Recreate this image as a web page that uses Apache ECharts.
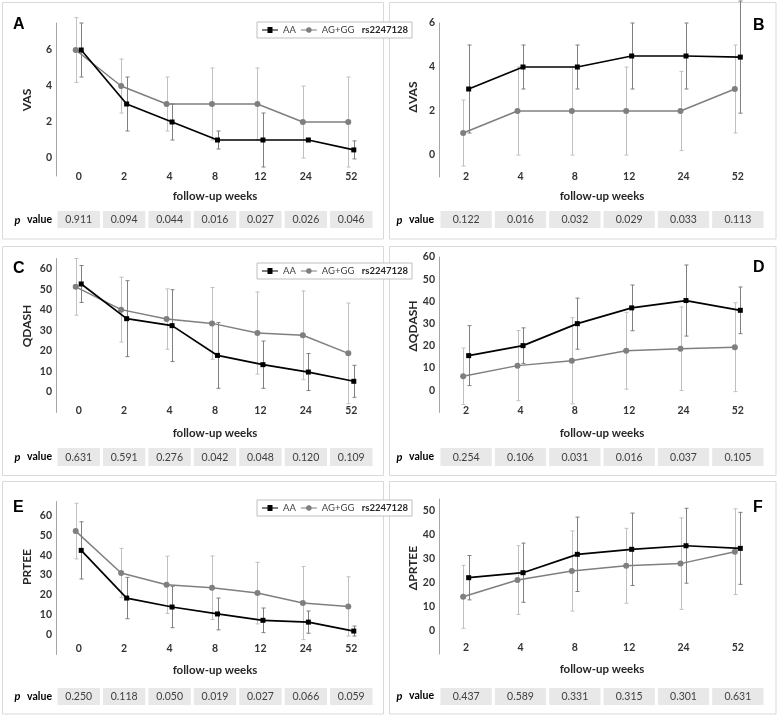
<!DOCTYPE html>
<html><head><meta charset="utf-8">
<script src="https://cdn.jsdelivr.net/npm/echarts@6/dist/echarts.min.js"></script>
<style>html,body{margin:0;padding:0;background:#fff}#c{width:778px;height:716px}</style>
</head><body><div id="c"></div>
<script>
// ---- categories ----
const weeksFull = ['0', '2', '4', '8', '12', '24', '52'];
const weeksDelta = ['2', '4', '8', '12', '24', '52'];

// ---- A: VAS ----
const vasAAmean = [6, 3, 2, 1, 1, 1, 0.45];
const vasAAsd   = [1.5, 1.5, 1, 0.5, 1.5, 0, 0.5];
const vasAGmean = [6, 4, 3, 3, 3, 2, 2];
const vasAGsd   = [1.8, 1.5, 1.5, 2, 2, 2, 2.5];
const pA = [0.911, 0.094, 0.044, 0.016, 0.027, 0.026, 0.046];

// ---- B: delta VAS ----
const dvasAAmean = [3, 4, 4, 4.5, 4.5, 4.45];
const dvasAAsd   = [2, 1, 1, 1.5, 1.5, 2.55];
const dvasAGmean = [1, 2, 2, 2, 2, 3];
const dvasAGsd   = [1.5, 2, 2, 2, 1.8, 2];
const pB = [0.122, 0.016, 0.032, 0.029, 0.033, 0.113];

// ---- C: QDASH ----
const qdAAmean = [52.6, 35.7, 32.3, 17.8, 13.3, 9.7, 5.2];
const qdAAsd   = [9, 18.5, 17.5, 16, 11.5, 9, 7.8];
const qdAGmean = [51.2, 40.1, 35.5, 33.4, 28.7, 27.6, 18.8];
const qdAGsd   = [13.8, 15.8, 14.7, 17.5, 20, 21.6, 24.5];
const pC = [0.631, 0.591, 0.276, 0.042, 0.048, 0.120, 0.109];

// ---- D: delta QDASH ----
const dqdAAmean = [15.6, 20.1, 30, 37.1, 40.4, 36];
const dqdAAsd   = [13.5, 8, 11.5, 10.3, 16, 10.5];
const dqdAGmean = [6.3, 11.1, 13.3, 17.8, 18.7, 19.4];
const dqdAGsd   = [12.7, 15.8, 19.4, 17.3, 18.8, 20];
const pD = [0.254, 0.106, 0.031, 0.016, 0.037, 0.105];

// ---- E: PRTEE ----
const prAAmean = [42.4, 18.4, 13.9, 10.4, 7.2, 6.3, 1.8];
const prAAsd   = [14.4, 10.4, 10.4, 8, 6.2, 5.6, 2.5];
const prAGmean = [52.1, 31, 25.1, 23.6, 20.9, 15.9, 14.2];
const prAGsd   = [14, 12.4, 14.4, 16, 15.5, 18.4, 14.9];
const pE = [0.250, 0.118, 0.050, 0.019, 0.027, 0.066, 0.059];

// ---- F: delta PRTEE ----
const dprAAmean = [22, 24.1, 31.8, 33.9, 35.4, 34.3];
const dprAAsd   = [9.3, 12.4, 15.6, 15.2, 15.7, 15.1];
const dprAGmean = [14, 21, 24.8, 27, 27.9, 32.9];
const dprAGsd   = [13.2, 14.4, 16.8, 15.7, 19.2, 18];
const pF = [0.437, 0.589, 0.331, 0.315, 0.301, 0.631];

const seriesNames = ['AA', 'AG+GG'];
const snpName = 'rs2247128';
const xTitle = 'follow-up weeks';

// ---- layout / styles ----
const FONT = 'Lato, "Open Sans", sans-serif';
const COL_AA = '#000000', COL_AG = '#7f7f7f', ERR_AA = '#7f7f7f', ERR_AG = '#c0c0c0';
const DX_AA = 2.5, DX_AG = -3;

const panels = [
  {id:'A', yName:'VAS', cats:weeksFull, aaM:vasAAmean, aaS:vasAAsd, agM:vasAGmean, agS:vasAGsd, p:pA,
   box:[2.5,2.5,381,236.5], grid:[56,23,318,153], y:[-1,7.5,1,2], lm:0.7, ng:20.7, prow:[211,17],
   letter:[13,25], yt:[26.7,100], plab:[52,220]},
  {id:'B', yName:'\u0394VAS', cats:weeksDelta, aaM:dvasAAmean, aaS:dvasAAsd, agM:dvasAGmean, agS:dvasAGsd, p:pB,
   box:[389.5,2.5,386.5,236.5], grid:[439,23,326,154], y:[-1,6,1,2], lm:-0.3, ng:19.7, prow:[211,17],
   letter:[753,26], yt:[413,97], plab:[434,220]},
  {id:'C', yName:'QDASH', cats:weeksFull, aaM:qdAAmean, aaS:qdAAsd, agM:qdAGmean, agS:qdAGsd, p:pC,
   box:[2.5,246.5,381,229], grid:[56,258.5,318,154], y:[-10,65,5,10], lm:-1.8, ng:20.5, prow:[448,18],
   letter:[13,268.5], yt:[26.7,326], plab:[52,457]},
  {id:'D', yName:'\u0394QDASH', cats:weeksDelta, aaM:dqdAAmean, aaS:dqdAAsd, agM:dqdAGmean, agS:dqdAGsd, p:pD,
   box:[389.5,246.5,386.5,229], grid:[439,257,326,155.5], y:[-10,60,10,10], lm:-1.8, ng:20.5, prow:[448,18],
   letter:[753,268], yt:[413,326], plab:[434,457]},
  {id:'E', yName:'PRTEE', cats:weeksFull, aaM:prAAmean, aaS:prAAsd, agM:prAGmean, agS:prAGsd, p:pE,
   box:[2.5,481.5,381,232.5], grid:[56,501.5,318,153], y:[-10,67,10,10], lm:-6.2, ng:15.5, prow:[688,17],
   letter:[13,508], yt:[26.7,567], plab:[52,696.5]},
  {id:'F', yName:'\u0394PRTEE', cats:weeksDelta, aaM:dprAAmean, aaS:dprAAsd, agM:dprAGmean, agS:dprAGsd, p:pF,
   box:[389.5,481.5,386.5,232.5], grid:[439,499,326,155], y:[-10,55,5,10], lm:-6.3, ng:15, prow:[688,17],
   letter:[753,508], yt:[413,568], plab:[434,696]}
];
const legendTops = [22, 263, 500];

function errRender(dx, color) {
  return function (params, api) {
    const i = api.value(0), m = api.value(1), s = api.value(2);
    if (!s) return null;
    const t = api.coord([i, m + s]), b = api.coord([i, m - s]);
    const x = Math.round(t[0] + dx) + 0.5;
    const st = {stroke: color, lineWidth: 1};
    return {type: 'group', children: [
      {type: 'line', shape: {x1: x, y1: t[1], x2: x, y2: b[1]}, style: st},
      {type: 'line', shape: {x1: x - 2, y1: t[1], x2: x + 2, y2: t[1]}, style: st},
      {type: 'line', shape: {x1: x - 2, y1: b[1], x2: x + 2, y2: b[1]}, style: st}
    ]};
  };
}
function lineRender(dx, color, means, shape) {
  return function (params, api) {
    const i = api.value(0), m = api.value(1);
    const p = api.coord([i, m]);
    const x = p[0] + dx, y = p[1];
    const ch = [];
    if (i > 0) {
      const q = api.coord([i - 1, means[i - 1]]);
      ch.push({type: 'line', z2: 1, shape: {x1: q[0] + dx, y1: q[1], x2: x, y2: y},
        style: {stroke: color, lineWidth: shape === 'square' ? 1.7 : 1.5}});
    }
    if (shape === 'square') ch.push({type: 'rect', z2: 5, shape: {x: x - 2.5, y: y - 2.5, width: 5, height: 5}, style: {fill: color}});
    else ch.push({type: 'circle', z2: 5, shape: {cx: x, cy: y, r: 3}, style: {fill: color}});
    return {type: 'group', children: ch};
  };
}
function pRender(params, api) {
  const i = api.value(0);
  const c = api.coord([i, 0.5]);
  const sz = api.size([1, 1]);
  const w = sz[0] - 3, h = sz[1];
  return {type: 'group', children: [
    {type: 'rect', shape: {x: c[0] - w / 2, y: c[1] - h / 2, width: w, height: h}, style: {fill: '#e8e8e8'}},
    {type: 'text', x: c[0], y: c[1] + 0.5, style: {text: api.value(1).toFixed(3), fill: '#404040',
      fontSize: 10.5, fontFamily: FONT, align: 'center', verticalAlign: 'middle'}}
  ]};
}

const grid = [], xAxis = [], yAxis = [], series = [], graphic = [];
const labelStyle = {fontFamily: FONT, fontWeight: 'bold', fontSize: 10.5, color: '#333'};

panels.forEach((P, g) => {
  const b = P.box;
  graphic.push({type: 'rect', z: -10, shape: {x: b[0], y: b[1], width: b[2], height: b[3]},
    style: {fill: '#fff', stroke: '#d9d9d9', lineWidth: 1}});
  graphic.push({type: 'text', x: P.letter[0], y: P.letter[1], style: {text: P.id, fill: '#000',
    fontSize: 16, fontWeight: 'bold', fontFamily: '"Liberation Sans", Arial, sans-serif', verticalAlign: 'middle'}});
  graphic.push({type: 'text', x: P.yt[0], y: P.yt[1], rotation: Math.PI / 2, style: {text: P.yName, fill: '#262626',
    fontSize: 12, fontWeight: 'bold', fontFamily: FONT, align: 'center', verticalAlign: 'middle'}});
  graphic.push({type: 'text', x: P.plab[0], y: P.plab[1], style: {text: '{i|p}  {b|value}',
    align: 'right', verticalAlign: 'middle',
    rich: {i: {fontStyle: 'italic', fontWeight: 'bold', fontSize: 11, fontFamily: FONT, fill: '#000'},
           b: {fontWeight: 'bold', fontSize: 10.5, fontFamily: FONT, fill: '#000'}}}});

  const G = P.grid;
  grid.push({left: G[0], top: G[1], width: G[2], height: G[3], containLabel: false});
  const step = P.y[3];
  xAxis.push({type: 'category', gridIndex: g, data: P.cats, boundaryGap: true,
    axisLine: {show: false}, axisTick: {show: false}, splitLine: {show: false},
    axisLabel: Object.assign({margin: P.lm, verticalAlign: 'middle', interval: 0}, labelStyle),
    name: xTitle, nameLocation: 'middle', nameGap: P.ng,
    nameTextStyle: {fontFamily: FONT, fontWeight: 'bold', fontSize: 11.5, color: '#262626', verticalAlign: 'middle'}});
  yAxis.push({type: 'value', gridIndex: g, min: P.y[0], max: P.y[1], interval: P.y[2],
    axisLine: {show: true, lineStyle: {color: '#a6a6a6', width: 1}}, axisTick: {show: false}, splitLine: {show: false},
    axisLabel: Object.assign({margin: 4, formatter: v => (v >= 0 && Math.abs(v % step) < 1e-9) ? String(v) : ''}, labelStyle)});

  const agErr = P.agM.map((m, i) => [i, m, P.agS[i]]);
  const aaErr = P.aaM.map((m, i) => [i, m, P.aaS[i]]);
  series.push({type: 'custom', name: 'AG+GG SD', xAxisIndex: g, yAxisIndex: g, z: 2, silent: true,
    renderItem: errRender(DX_AG, ERR_AG), data: agErr});
  series.push({type: 'custom', name: 'AA SD', xAxisIndex: g, yAxisIndex: g, z: 2, silent: true,
    renderItem: errRender(DX_AA, ERR_AA), data: aaErr});
  series.push({type: 'custom', name: seriesNames[1], xAxisIndex: g, yAxisIndex: g, z: 3, itemStyle: {color: COL_AG},
    renderItem: lineRender(DX_AG, COL_AG, P.agM, 'circle'), data: P.agM.map((m, i) => [i, m])});
  series.push({type: 'custom', name: seriesNames[0], xAxisIndex: g, yAxisIndex: g, z: 4, itemStyle: {color: COL_AA},
    renderItem: lineRender(DX_AA, COL_AA, P.aaM, 'square'), data: P.aaM.map((m, i) => [i, m])});
});

// p-value rows
panels.forEach((P, g) => {
  const k = panels.length + g;
  grid.push({left: P.grid[0], width: P.grid[2], top: P.prow[0], height: P.prow[1]});
  xAxis.push({type: 'category', gridIndex: k, data: P.cats, show: false, boundaryGap: true});
  yAxis.push({type: 'value', gridIndex: k, min: 0, max: 1, show: false});
  series.push({type: 'custom', name: 'p value ' + P.id, xAxisIndex: k, yAxisIndex: k, silent: true,
    renderItem: pRender, data: P.p.map((v, i) => [i, v])});
});

const ICON_AA = 'path://M0,3H5.5V0.5H10.5V3H16V4H10.5V6.5H5.5V4H0Z';
const ICON_AG = 'path://M0,3H5.1A3,3 0 0 1 10.9,3H16V4H10.9A3,3 0 0 1 5.1,4H0Z';
const legend = legendTops.map(t => ({
  left: 257, top: t, orient: 'horizontal', padding: [2, 4, 2, 5], itemGap: 5, itemWidth: 16, itemHeight: 7,
  borderColor: '#bfbfbf', borderWidth: 1, backgroundColor: '#fff', selectedMode: false, z: 10,
  data: [{name: seriesNames[0], icon: ICON_AA}, {name: seriesNames[1], icon: ICON_AG}],
  formatter: n => n === seriesNames[1] ? n + '   {b|' + snpName + '}' : n,
  textStyle: {fontFamily: FONT, fontSize: 9.5, color: '#404040', lineHeight: 12,
    rich: {b: {fontFamily: FONT, fontSize: 9.5, fontWeight: 'bold', color: '#262626', lineHeight: 12}}}
}));

const chart = echarts.init(document.getElementById('c'), null, {renderer: 'canvas'});
chart.setOption({animation: false, backgroundColor: '#fff', grid, xAxis, yAxis, series, legend, graphic});
</script></body></html>
